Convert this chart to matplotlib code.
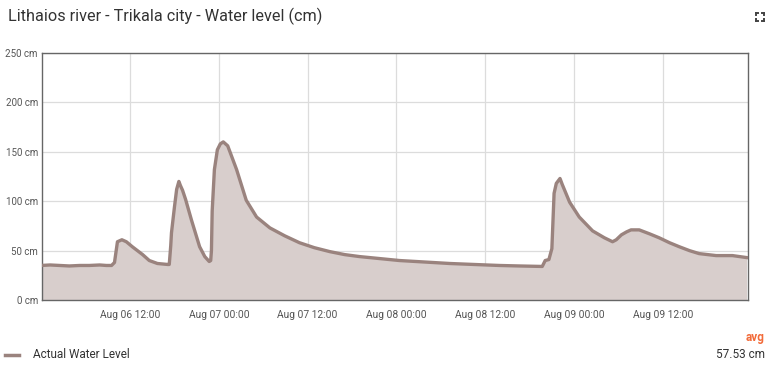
import pandas as pd
import matplotlib
matplotlib.use('Agg')
import matplotlib.pyplot as plt
import matplotlib.dates as mdates
from matplotlib.ticker import FuncFormatter
from matplotlib.lines import Line2D

plt.rcParams['font.family'] = ['Roboto', 'DejaVu Sans']

# hours after Aug 06 00:00 and water level (cm)
hours = [0.0, 1.2, 2.5, 3.8, 5.2, 6.5, 7.9, 8.8, 9.5, 9.9, 10.3, 10.9, 11.5, 12.3,
         13.7, 14.6, 15.7, 17.1, 17.3, 17.5, 17.6, 18.0, 18.3, 18.6, 18.8, 19.1,
         19.5, 20.3, 21.4, 22.1, 22.7, 22.9, 23.0, 23.1, 23.4, 23.8, 24.2, 24.6,
         25.2, 25.7, 26.4, 27.7, 29.1, 30.9, 32.9, 34.9, 36.9, 39.0, 41.0, 43.0,
         45.7, 48.4, 51.8, 55.2, 58.5, 61.9, 64.6, 67.7, 68.1, 68.6, 69.0, 69.3,
         69.6, 70.1, 70.4, 71.4, 72.7, 74.5, 76.1, 77.2, 77.7, 78.4, 79.1, 79.7,
         80.8, 82.2, 83.5, 84.9, 86.2, 87.6, 88.9, 91.2, 93.4, 95.3]
level = [35, 35.5, 35, 34.5, 35, 35, 35.5, 35, 35, 38, 59, 61, 59, 54,
         46, 40, 37, 36, 36, 55, 68, 94, 112, 120, 116, 111,
         102, 81, 54, 44, 39, 40, 50, 90, 132, 152, 158, 160,
         156, 146, 132, 101, 84, 73, 65, 58, 53, 49, 46, 44,
         42, 40, 38.5, 37, 36, 35, 34.5, 34, 40, 41, 52, 108,
         118, 123, 117, 99, 84, 70, 63, 59, 61, 66, 69, 71,
         71, 67, 63, 58, 54, 50, 47, 45, 45, 43]

start = pd.Timestamp('2018-08-06 00:00')
times = [start + pd.Timedelta(hours=h) for h in hours]
tick_times = [start + pd.Timedelta(hours=h) for h in [12, 24, 36, 48, 60, 72, 84]]
y_ticks = [0, 50, 100, 150, 200, 250]

line_col = '#9a837e'
fill_col = '#d8cecc'

fig = plt.figure(figsize=(7.7, 3.7), dpi=100)
ax = fig.add_axes([0.0545, 0.189, 0.9169, 0.668])

ax.fill_between(times, level, 0, color=fill_col, lw=0, zorder=2)
ax.plot(times, level, color=line_col, lw=2.4, zorder=3)

ax.set_xlim(start + pd.Timedelta(hours=0.1), start + pd.Timedelta(hours=95.5))
ax.set_ylim(0, 250)
ax.set_xticks(tick_times)
ax.xaxis.set_major_formatter(mdates.DateFormatter('%b %d %H:%M'))
ax.set_yticks(y_ticks)
ax.yaxis.set_major_formatter(FuncFormatter(lambda v, p: '%d cm' % v))
ax.tick_params(length=0, labelsize=7, colors='#555555')
ax.tick_params(axis='x', pad=7, labelsize=7.4)
ax.tick_params(axis='y', pad=3)
ax.grid(True, color='#dcdcdc', lw=0.9, zorder=1)
for s in ax.spines.values():
    s.set_color('#666666')
    s.set_linewidth(1.0)

fig.text(8/770, 1 - 16/370, 'Lithaios river - Trikala city - Water level (cm)',
         fontsize=11.7, color='#333333', va='center', ha='left')

# expand icon top right: four corner brackets
for dx, dy in [(-1, 1), (1, 1), (-1, -1), (1, -1)]:
    cx, cy = 760 + dx * 4, 17 - dy * 4
    fig.add_artist(Line2D([cx / 770, cx / 770], [1 - cy / 370, 1 - (cy + dy * 2.2) / 370],
                          color='#444444', lw=1.4, transform=fig.transFigure))
    fig.add_artist(Line2D([cx / 770, (cx - dx * 2.2) / 770], [1 - cy / 370, 1 - cy / 370],
                          color='#444444', lw=1.4, transform=fig.transFigure))

# legend row
fig.add_artist(Line2D([5 / 770, 19 / 770], [1 - 355 / 370, 1 - 355 / 370],
                      color=line_col, lw=2.5, transform=fig.transFigure))
fig.text(33 / 770, 1 - 355 / 370, 'Actual Water Level', fontsize=8.5, color='#333333',
         va='center', ha='left')
fig.text(765 / 770, 1 - 337 / 370, 'avg', fontsize=8.5, color='#f26b3a',
         fontweight='bold', va='center', ha='right')
fig.text(765 / 770, 1 - 355 / 370, '57.53 cm', fontsize=8.5, color='#333333',
         va='center', ha='right')

fig.savefig('out.png', dpi=100)
